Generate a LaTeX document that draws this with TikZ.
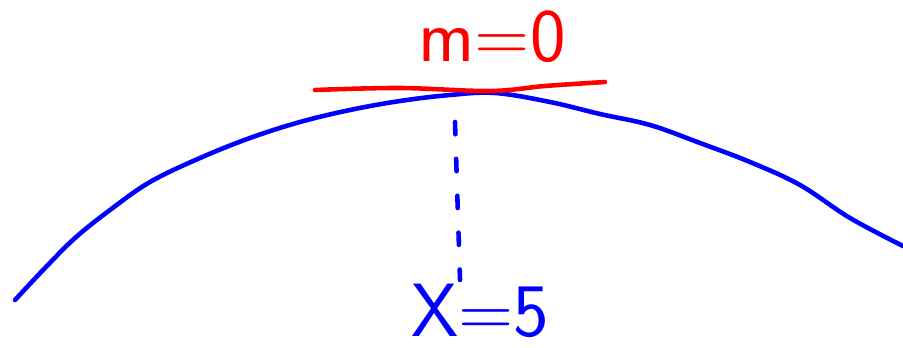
\documentclass[tikz,border=0pt]{standalone}
\usetikzlibrary{positioning}
\definecolor{penblue}{RGB}{0,0,255}
\definecolor{penred}{RGB}{255,0,0}
\tikzset{
  pen/.style={line width=2.6pt, line cap=round, line join=round},
  handtext/.style={font=\sffamily\fontsize{43}{43}\selectfont, inner sep=0pt}
}
\begin{document}
\begin{tikzpicture}[x=0.02cm, y=-0.02cm]
\useasboundingbox (0,0) rectangle (903,348);

% Curve
\draw[pen, penblue] plot[smooth, tension=0.6] coordinates {
  (15,300) (45,268) (75,238) (110,210) (150,182) (200,158) (250,138)
  (300,122) (350,110) (400,101) (450,95) (495,93) (550,102) (600,114)
  (650,125) (700,143) (750,162) (800,185) (850,218) (903,246)};

% Tangent at the top
\draw[pen, penred] plot[smooth, tension=0.6] coordinates {
  (315,90) (400,88) (490,91) (545,86) (605,82)};

% Slope label
\node[handtext, text=penred] (slope) at (492,37) {m=0};

% x value
\node[handtext, text=penblue] (xval) at (480,311) {X=5};

% Drop line
\coordinate (top) at (455,122);
\coordinate (bottom) at (460,280);
\draw[pen, penblue, dash pattern=on 7pt off 14pt] (top) -- (bottom);
\end{tikzpicture}
\end{document}
